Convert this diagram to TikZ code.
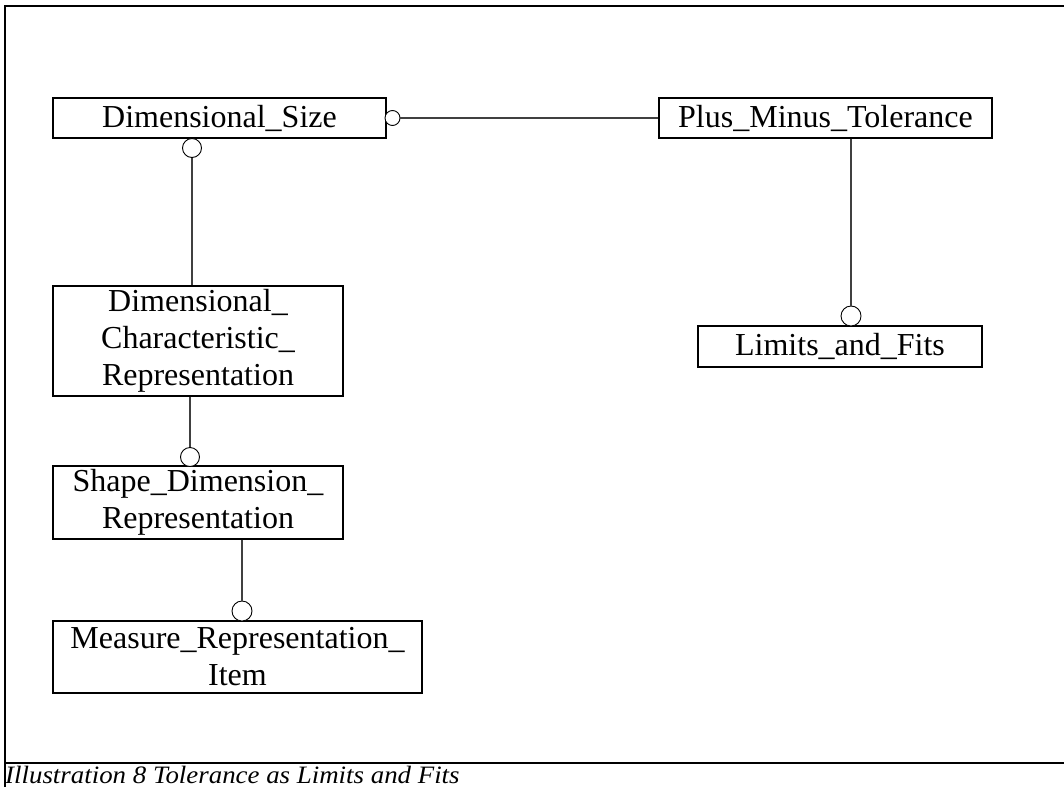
\documentclass[tikz,border=0pt]{standalone}
\usepackage{fontspec}
\setmainfont{Liberation Serif}
\begin{document}
\begin{tikzpicture}[x=1pt,y=-1pt,
  entity/.style={draw=black,line width=1.2pt,rectangle,inner sep=0pt,align=center,
    font=\fontsize{32}{37}\selectfont},
  opt/.style={draw=black,line width=0.9pt,circle,inner sep=0pt,fill=white},
  rel/.style={draw=black!75,line width=1.1pt},
  frame/.style={line width=1.4pt}]
\useasboundingbox (0,0) rectangle (1064,787);
% frame
\draw[frame] (5,787) -- (5,6) -- (1064,6);
\draw[frame] (5,763) -- (1064,763);
% entities
\node[entity,minimum width=333pt,minimum height=40pt] (ds) at (219.5,118) {Dimensional\_Size};
\node[entity,minimum width=333pt,minimum height=40pt] (pmt) at (825.5,118) {Plus\_Minus\_Tolerance};
\node[entity,minimum width=290pt,minimum height=110pt] (dcr) at (198,341) {Dimensional\_\\Characteristic\_\\Representation};
\node[entity,minimum width=290pt,minimum height=73pt] (sdr) at (198,502.5) {Shape\_Dimension\_\\Representation};
\node[entity,minimum width=369pt,minimum height=72pt] (mri) at (237.5,657) {Measure\_Representation\_\\Item};
\node[entity,minimum width=284pt,minimum height=41pt] (lf) at (840,346.5) {Limits\_and\_Fits};
% optional markers
\node[opt,minimum size=15pt] (c1) at (392.5,118) {};
\node[opt,minimum size=19pt] (c2) at (192,148) {};
\node[opt,minimum size=19pt] (c3) at (190,457) {};
\node[opt,minimum size=20pt] (c4) at (242,611) {};
\node[opt,minimum size=20pt] (c5) at (851,316) {};
% relations
\draw[rel] (c1.east) -- (pmt.west);
\draw[rel] (c2.south) -- (c2.south |- dcr.north);
\draw[rel] (c3.north |- dcr.south) -- (c3.north);
\draw[rel] (c4.north |- sdr.south) -- (c4.north);
\draw[rel] (c5.north |- pmt.south) -- (c5.north);
% caption
\node[anchor=base west,inner sep=0pt,xscale=1.075,font=\fontsize{25}{28}\selectfont\itshape] (cap) at (5,783) {Illustration 8 Tolerance as Limits and Fits};
\end{tikzpicture}
\end{document}
